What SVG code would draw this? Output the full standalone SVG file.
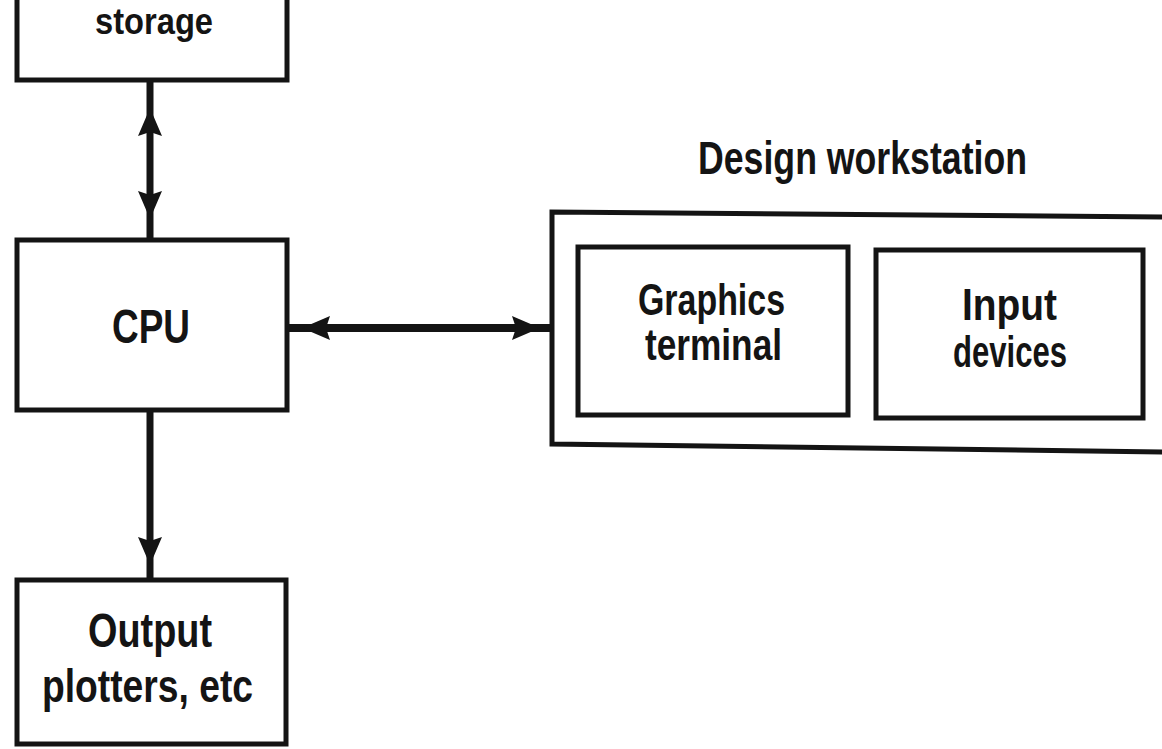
<svg xmlns="http://www.w3.org/2000/svg" width="1162" height="749" viewBox="0 0 1162 749">
<style>
.box{fill:none;stroke:#141414;stroke-width:5;stroke-linejoin:miter}
.lbl{font-family:"Liberation Sans",Arial,sans-serif;font-weight:bold;fill:#141414}
.conn{stroke:#141414;fill:none}
.head{fill:#141414;stroke:none}
</style>
<defs>
<path id="ah" d="M0,0 L-28,-12 L-24,0 L-28,12 Z"/>
</defs>
<rect width="1162" height="749" fill="#ffffff"/>
<g id="storage">
<rect class="box" x="17" y="-20" width="270" height="100"/>
<text class="lbl" x="95" y="34" font-size="36" textLength="118" lengthAdjust="spacingAndGlyphs">storage</text>
</g>
<g id="cpu">
<rect class="box" x="17" y="240" width="270" height="170"/>
<text class="lbl" x="112" y="343" font-size="48" textLength="78" lengthAdjust="spacingAndGlyphs">CPU</text>
</g>
<g id="output">
<rect class="box" x="17" y="580" width="269" height="164"/>
<text class="lbl" x="88" y="647" font-size="48" textLength="124" lengthAdjust="spacingAndGlyphs">Output</text>
<text class="lbl" x="42" y="702" font-size="46" textLength="211" lengthAdjust="spacingAndGlyphs">plotters, etc</text>
</g>
<g id="workstation">
<text class="lbl" x="698" y="174" font-size="46" textLength="329" lengthAdjust="spacingAndGlyphs">Design workstation</text>
<path class="box" d="M1170,217 L552,212 L552,444 L1170,452"/>
</g>
<g id="graphics-terminal">
<rect class="box" x="578" y="247" width="270" height="168"/>
<text class="lbl" x="638" y="315" font-size="44" textLength="147" lengthAdjust="spacingAndGlyphs">Graphics</text>
<text class="lbl" x="645" y="360" font-size="44" textLength="137" lengthAdjust="spacingAndGlyphs">terminal</text>
</g>
<g id="input-devices">
<rect class="box" x="876" y="250" width="267" height="168"/>
<text class="lbl" x="962" y="320" font-size="44" textLength="95" lengthAdjust="spacingAndGlyphs">Input</text>
<text class="lbl" x="953" y="367" font-size="44" textLength="114" lengthAdjust="spacingAndGlyphs">devices</text>
</g>
<g id="connectors">
<line class="conn" x1="150" y1="80" x2="150" y2="240" stroke-width="7"/>
<use href="#ah" class="head" transform="translate(150,108) rotate(-90)"/>
<use href="#ah" class="head" transform="translate(150,219) rotate(90)"/>
<line class="conn" x1="150" y1="410" x2="150" y2="580" stroke-width="7"/>
<use href="#ah" class="head" transform="translate(150,565) rotate(90)"/>
<line class="conn" x1="287" y1="328" x2="552" y2="328" stroke-width="8"/>
<use href="#ah" class="head" transform="translate(302,328) rotate(180)"/>
<use href="#ah" class="head" transform="translate(540,328)"/>
</g>
</svg>
